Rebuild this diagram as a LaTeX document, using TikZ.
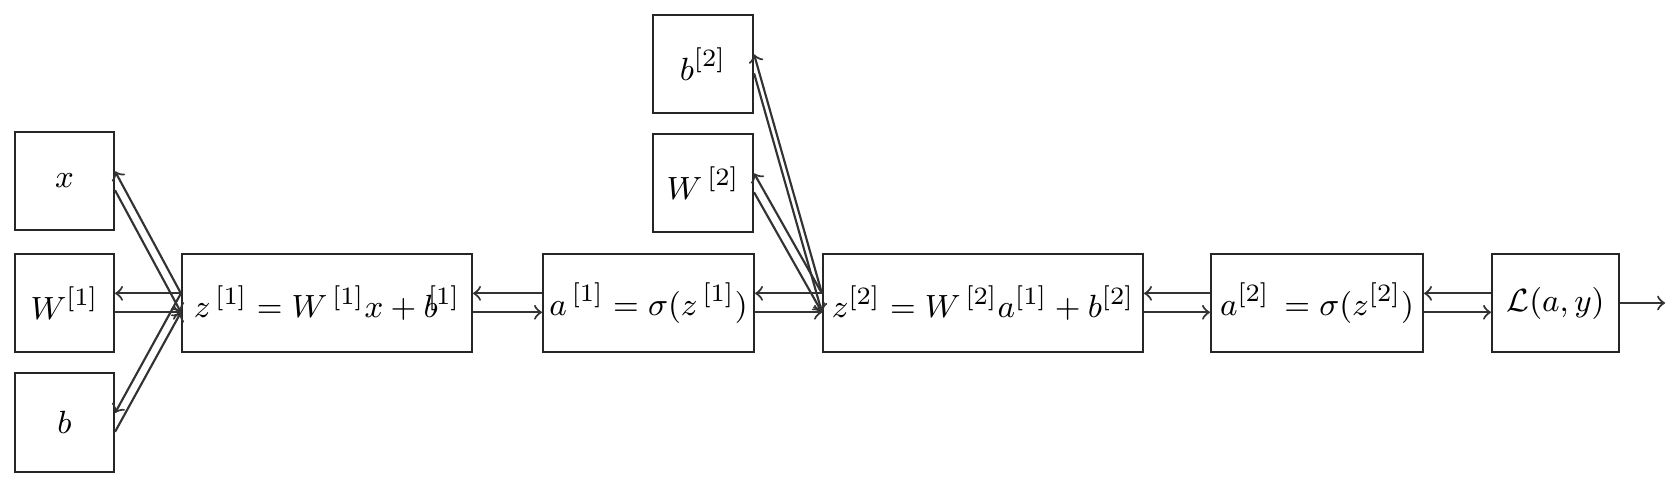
\documentclass[tikz,border=0pt]{standalone}
\usepackage{amsmath}
\begin{document}
\begin{tikzpicture}[x=0.28pt,y=-0.28pt,
  blk/.style={draw=black!85, line width=0.6pt, minimum height=27.44pt, inner sep=0pt, font=\fontsize{9.5pt}{11pt}\selectfont},
  con/.style={draw=black!80, line width=0.6pt, ->}]
\useasboundingbox (0,0) rectangle (1676,490);
\node[blk, minimum width=27.72pt] (x)  at (64.5,181)   {$x$};
\node[blk, minimum width=27.72pt] (W1) at (64.5,303)   {$W^{[1]}$};
\node[blk, minimum width=27.72pt, minimum height=27.72pt] (b)  at (64.5,422.5) {$b$};
\node[blk, minimum width=81.2pt]  (z1) at (327,303)    {$z^{\,[1]} = W^{\,[1]}x + b^{\!\![1]}$};
\node[blk, minimum width=59.08pt] (a1) at (648.5,303)  {$a^{\,[1]} = \sigma(z^{\,[1]})$};
\node[blk, minimum width=28pt]    (b2) at (703,64)     {$b^{[2]}$};
\node[blk, minimum width=28pt]    (W2) at (703,183)    {$W^{\,[2]}$};
\node[blk, minimum width=89.6pt]  (z2) at (983,303)    {$z^{[2]} = W^{\,[2]}a^{[1]} + b^{[2]}$};
\node[blk, minimum width=59.36pt] (a2) at (1317,303)   {$a^{[2]}\,= \sigma(z^{[2]})$};
\node[blk, minimum width=35.56pt] (L)  at (1555.5,303) {$\mathcal{L}(a,y)$};
\coordinate (out) at (1665,303);
\foreach \p/\q in {x/z1, W1/z1, b/z1, z1/a1, a1/z2, W2/z2, b2/z2, z2/a2, a2/L} {
  \draw[con] ([yshift=2.7pt]\q.west) -- ([yshift=2.7pt]\p.east);
  \draw[con] ([yshift=-2.6pt]\p.east) -- ([yshift=-2.6pt]\q.west);
}
\draw[con] (L.east) -- (out);
\end{tikzpicture}
\end{document}
